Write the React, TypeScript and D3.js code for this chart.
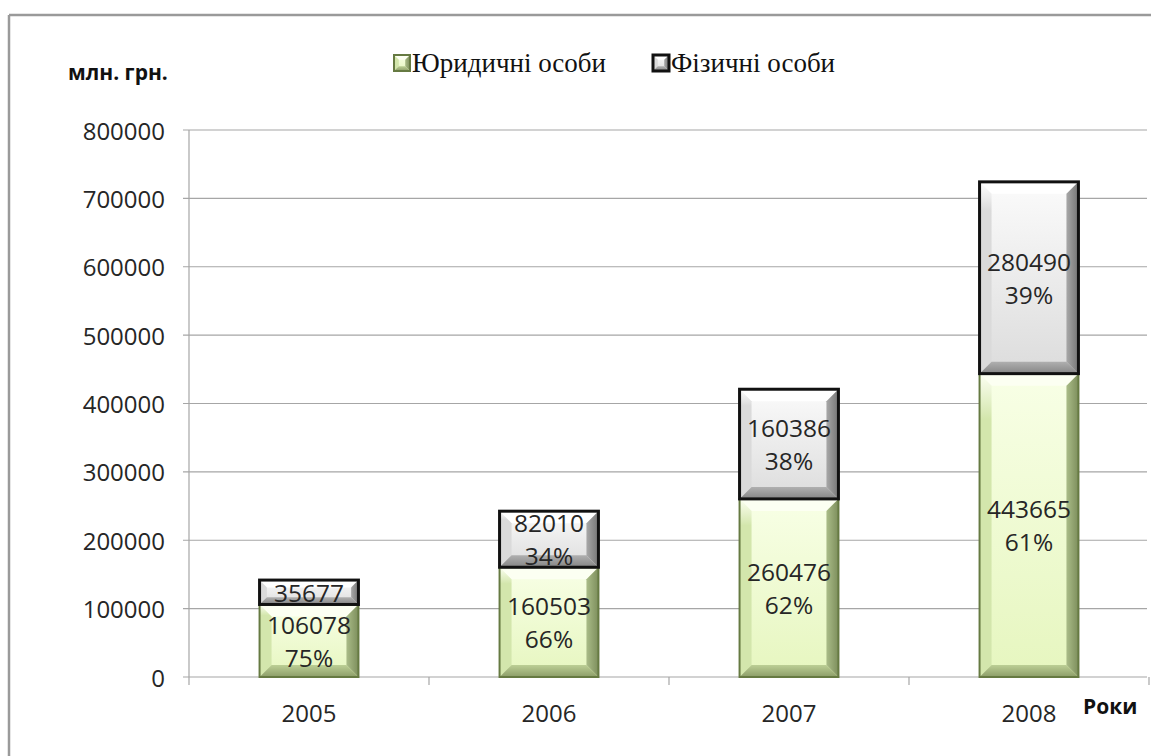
import React from 'react';
import * as d3 from 'd3';

const W = 1151;
const H = 756;

const years = ['2005', '2006', '2007', '2008'];
const legal = [106078, 160503, 260476, 443665];
const physical = [35677, 82010, 160386, 280490];
const legalPct = ['75%', '66%', '62%', '61%'];
const physicalPct = ['', '34%', '38%', '39%'];
const seriesNames = ['Юридичні особи', 'Фізичні особи'];

const left = 189;
const right = 1149;
const top = 130;
const bottom = 677;

const sans = "'Open Sans', 'Noto Sans', sans-serif";
const serif = "Liberation Serif, Times New Roman, DejaVu Serif, serif";

const palette = {
  green: {
    faceTop: '#f8ffe6', faceBot: '#e6f6bf', top: '#fcfff2', left: '#d3e6ac',
    rightIn: '#aabc88', rightOut: '#7d8e5c', bottomIn: '#bccf95', bottomOut: '#8c9d68',
    stroke: '#667a42', sw: 2,
  },
  gray: {
    faceTop: '#fbfbfb', faceBot: '#dcdcdc', top: '#ffffff', left: '#dadada',
    rightIn: '#a8a8a8', rightOut: '#767676', bottomIn: '#b0b0b0', bottomOut: '#858585',
    stroke: '#111', sw: 3,
  },
};

type Kind = 'green' | 'gray';

const BevelRect: React.FC<{ x: number; y: number; w: number; h: number; kind: Kind }> = ({ x, y, w, h, kind }) => {
  const c = palette[kind];
  const b = Math.min(12, h * 0.3, w * 0.3);
  const x2 = x + w;
  const y2 = y + h;
  const pts = (a: number[][]) => a.map(p => p.join(',')).join(' ');
  return (
    <g>
      <rect x={x} y={y} width={w} height={h} fill={`url(#face-${kind})`} />
      <polygon points={pts([[x, y], [x2, y], [x2 - b, y + b], [x + b, y + b]])} fill={c.top} />
      <polygon points={pts([[x, y], [x + b, y + b], [x + b, y2 - b], [x, y2]])} fill={`url(#left-${kind})`} />
      <polygon points={pts([[x2, y], [x2, y2], [x2 - b, y2 - b], [x2 - b, y + b]])} fill={`url(#right-${kind})`} />
      <polygon points={pts([[x, y2], [x + b, y2 - b], [x2 - b, y2 - b], [x2, y2]])} fill={`url(#bottom-${kind})`} />
      <rect x={x} y={y} width={w} height={h} fill="none" stroke={c.stroke} strokeWidth={c.sw} />
    </g>
  );
};

const App: React.FC = () => {
  const x = d3.scaleBand<string>().domain(years).range([left, right]).paddingInner(0.588).paddingOuter(0.294);
  const y = d3.scaleLinear().domain([0, 800000]).range([bottom, top]);
  const ticks = y.ticks(8);
  const band = (right - left) / years.length;
  const boundaries = d3.range(years.length + 1).map(i => left + i * band);
  const bw = x.bandwidth();

  const label = (cx: number, cy: number, lines: string[], key: string) => {
    const lh = 33;
    const start = cy - ((lines.length - 1) * lh) / 2;
    return lines.map((t, i) => (
      <text key={key + i} x={cx} y={start + i * lh} textAnchor="middle" dominantBaseline="central"
        style={{ fontFamily: sans }} fontSize={24.5} fill="#262626">{t}</text>
    ));
  };

  return (
    <svg width={W} height={H} style={{ position: 'absolute', left: 0, top: 0, background: '#fff' }}>
      <defs>
        {(['green', 'gray'] as Kind[]).map(k => (
          <React.Fragment key={k}>
            <linearGradient id={`face-${k}`} x1="0" y1="0" x2="0" y2="1">
              <stop offset="0%" stopColor={palette[k].faceTop} />
              <stop offset="100%" stopColor={palette[k].faceBot} />
            </linearGradient>
            <linearGradient id={`left-${k}`} x1="0" y1="0" x2="0" y2="1">
              <stop offset="0%" stopColor={palette[k].top} />
              <stop offset="15%" stopColor={palette[k].left} />
              <stop offset="100%" stopColor={palette[k].left} />
            </linearGradient>
            <linearGradient id={`right-${k}`} x1="0" y1="0" x2="1" y2="0">
              <stop offset="0%" stopColor={palette[k].rightIn} />
              <stop offset="100%" stopColor={palette[k].rightOut} />
            </linearGradient>
            <linearGradient id={`bottom-${k}`} x1="0" y1="0" x2="0" y2="1">
              <stop offset="0%" stopColor={palette[k].bottomIn} />
              <stop offset="100%" stopColor={palette[k].bottomOut} />
            </linearGradient>
          </React.Fragment>
        ))}
      </defs>

      {/* outer frame */}
      <line x1={9} y1={15} x2={W} y2={15} stroke="#9a9a9a" strokeWidth={2.5} />
      <line x1={9} y1={15} x2={9} y2={H} stroke="#9a9a9a" strokeWidth={2.5} />

      {/* gridlines */}
      {ticks.map(t => (
        <line key={'g' + t} x1={left - 6} x2={right - 2} y1={y(t)} y2={y(t)} stroke="#a6a6a6" strokeWidth={1.2} />
      ))}
      <line x1={left} x2={left} y1={top} y2={bottom} stroke="#a6a6a6" strokeWidth={1.2} />
      {boundaries.map(b => (
        <line key={'xb' + b} x1={b} x2={b} y1={bottom} y2={bottom + 8} stroke="#a6a6a6" strokeWidth={1.2} />
      ))}

      {/* y tick labels */}
      {ticks.map(t => (
        <text key={'yt' + t} x={165} y={y(t)} textAnchor="end" dominantBaseline="central"
          style={{ fontFamily: sans }} fontSize={24} fill="#262626">{t}</text>
      ))}

      {/* x labels */}
      {years.map(yr => (
        <text key={'xl' + yr} x={(x(yr) as number) + bw / 2} y={712} textAnchor="middle" dominantBaseline="central"
          style={{ fontFamily: sans }} fontSize={24} fill="#262626">{yr}</text>
      ))}

      {/* bars */}
      {years.map((yr, i) => {
        const bx = x(yr) as number;
        const l0 = y(0);
        const l1 = y(legal[i]);
        const p1 = y(legal[i] + physical[i]);
        return (
          <g key={'bar' + yr}>
            <BevelRect x={bx} y={l1} w={bw} h={l0 - l1} kind="green" />
            <BevelRect x={bx} y={p1} w={bw} h={l1 - p1} kind="gray" />
          </g>
        );
      })}

      {/* data labels */}
      {years.map((yr, i) => {
        const cx = (x(yr) as number) + bw / 2;
        const l1 = y(legal[i]);
        const p1 = y(legal[i] + physical[i]);
        const pl = [String(physical[i]), physicalPct[i]].filter(s => s !== '');
        return (
          <g key={'lab' + yr}>
            {label(cx, (y(0) + l1) / 2, [String(legal[i]), legalPct[i]], 'l' + yr)}
            {label(cx, (l1 + p1) / 2, pl, 'p' + yr)}
          </g>
        );
      })}

      {/* axis titles */}
      <text x={68} y={72} dominantBaseline="central" style={{ fontFamily: sans }} fontWeight="bold" fontSize={21} fill="#111">млн. грн.</text>
      <text x={1083} y={706} dominantBaseline="central" style={{ fontFamily: sans }} fontWeight="bold" fontSize={21} fill="#111">Роки</text>

      {/* legend */}
      {seriesNames.map((n, i) => {
        const lx = [394, 653][i];
        const kind: Kind = i === 0 ? 'green' : 'gray';
        return (
          <g key={'lg' + i}>
            <BevelRect x={lx} y={55} w={16} h={16} kind={kind} />
            <text x={lx + 18} y={63} dominantBaseline="central" style={{ fontFamily: serif }} fontSize={27} fill="#111">{n}</text>
          </g>
        );
      })}
    </svg>
  );
};

export default App;
